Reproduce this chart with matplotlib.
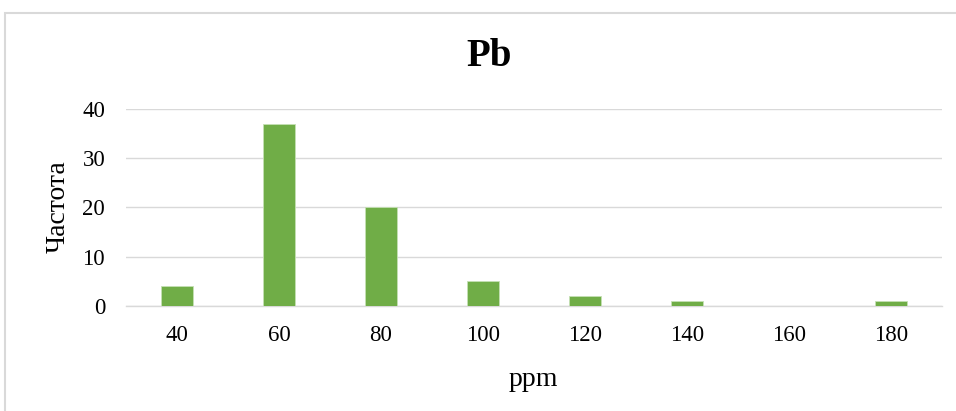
import numpy as np
import matplotlib
matplotlib.use("Agg")
import matplotlib.pyplot as plt
from matplotlib.patches import Rectangle

# histogram of Pb content
bins = ["40", "60", "80", "100", "120", "140", "160", "180"]
counts = [4, 37, 20, 5, 2, 1, 0, 1]
y_ticks = [0, 10, 20, 30, 40]

plt.rcParams['font.family'] = ['Liberation Serif', 'DejaVu Serif']

fig = plt.figure(figsize=(9.56, 4.11), dpi=100)
ax = fig.add_axes([126 / 956, 0.2555, 816 / 956, 0.4793])

# chart border: only top and left edges are inside the picture
fig.patches.append(Rectangle((4.5 / 956, -0.05), 1.1, 1.05 - 13 / 411, transform=fig.transFigure,
                             fill=False, edgecolor="#D9D9D9", linewidth=1.5))

x = np.arange(len(bins))
ax.bar(x, counts, width=0.314, color="#70AD47", edgecolor="#C5E0B4", linewidth=0.6, zorder=3)

ax.set_xlim(-0.5, len(bins) - 0.5)
ax.set_ylim(0, 40)
ax.set_yticks(y_ticks)
ax.set_xticks(x)
ax.set_xticklabels(bins)
ax.tick_params(axis="both", length=0, labelsize=16.5, colors="#000000")
ax.tick_params(axis="x", pad=14)
ax.tick_params(axis="y", pad=15)
ax.grid(axis="y", color="#D9D9D9", linewidth=1, zorder=0)

for side in ["top", "right", "left"]:
    ax.spines[side].set_visible(False)
ax.spines["bottom"].set_color("#D9D9D9")
ax.spines["bottom"].set_linewidth(1)

fig.text(489 / 956, 1 - 57 / 411, "Pb", fontsize=28, fontweight="bold", ha="center", va="center")
fig.text(58 / 956, 1 - 207 / 411, "Частота", fontsize=20, rotation=90, ha="center", va="center")
fig.text(533 / 956, 1 - 379 / 411, "ppm", fontsize=20, ha="center", va="center")

fig.savefig("out.png", dpi=100)
